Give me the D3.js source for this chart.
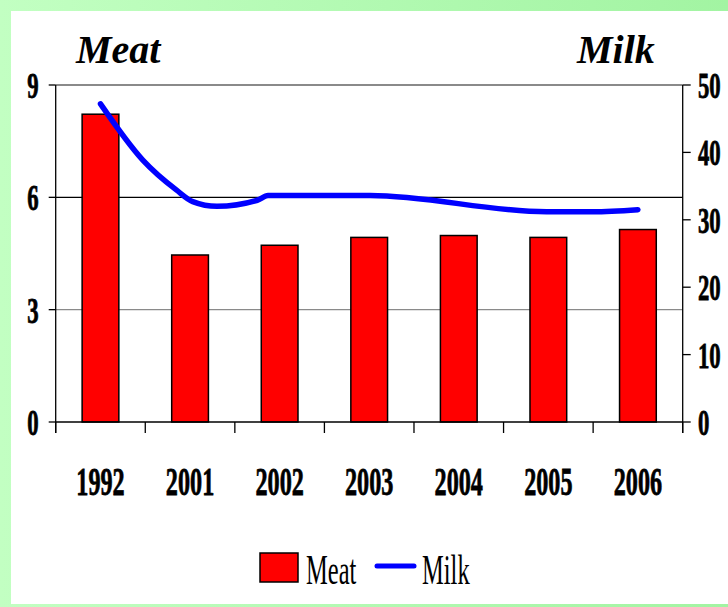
<!DOCTYPE html>
<html>
<head>
<meta charset="utf-8">
<script src="https://cdn.jsdelivr.net/npm/d3@7"></script>
<style>
  html, body { margin: 0; padding: 0; background: #fff; }
  svg { display: block; }
  text { font-family: "Liberation Serif", "Times New Roman", serif; fill: #000; }
</style>
</head>
<body>
<svg id="chart" width="728" height="607"></svg>
<script>
// ---- data ----
const years = ["1992", "2001", "2002", "2003", "2004", "2005", "2006"];
const meatValues = [8.22, 4.46, 4.72, 4.93, 4.98, 4.93, 5.14];
// milk line: position in category index units, value on the right axis
const milkPos = [0, 0.47, 0.85, 1.03, 1.30, 1.75, 1.87, 3.01, 4.98, 5.50, 6.0];
const milkValues = [47.2, 38.9, 34.4, 32.7, 32.0, 32.9, 33.6, 33.6, 31.2, 31.2, 31.5];
const meatTicks = [0, 3, 6, 9];
const milkTicks = [0, 10, 20, 30, 40, 50];
const seriesNames = ["Meat", "Milk"];

// ---- layout ----
const W = 728, H = 607;
const plot = { left: 55.7, right: 682.7, top: 85, bottom: 422 };
const svg = d3.select("#chart");

// background frame
const defs = svg.append("defs");
const grad = defs.append("linearGradient").attr("id", "bg").attr("x1", "0").attr("x2", "1").attr("y1", "0").attr("y2", "0");
grad.append("stop").attr("offset", "0").attr("stop-color", "#c2ffc2");
grad.append("stop").attr("offset", "1").attr("stop-color", "#a2f4a2");
svg.append("rect").attr("width", W).attr("height", H).attr("fill", "url(#bg)");
svg.append("rect").attr("x", 11).attr("y", 11).attr("width", W - 11).attr("height", 604 - 11).attr("fill", "#fff");

// scales
const x = d3.scaleBand().domain(years).range([plot.left, plot.right]).paddingInner(0.59).paddingOuter(0.295);
const xIdx = d3.scaleLinear().domain([0, years.length - 1])
  .range([x(years[0]) + x.bandwidth() / 2, x(years[years.length - 1]) + x.bandwidth() / 2]);
const yL = d3.scaleLinear().domain([0, 9]).range([plot.bottom, plot.top]);
const yR = d3.scaleLinear().domain([0, 50]).range([plot.bottom, plot.top]);

// gridlines
const gridStyle = { 9: ["#8a8a8a", 2], 6: ["#000", 1.2], 3: ["#8a8a8a", 1.2] };
svg.append("g").selectAll("line").data(meatTicks.filter(d => d > 0)).join("line")
  .attr("x1", plot.left).attr("x2", plot.right)
  .attr("y1", d => yL(d)).attr("y2", d => yL(d))
  .attr("stroke", d => gridStyle[d][0]).attr("stroke-width", d => gridStyle[d][1]);

// bars
svg.append("g").selectAll("rect").data(years).join("rect")
  .attr("x", d => x(d)).attr("width", x.bandwidth())
  .attr("y", (d, i) => yL(meatValues[i]))
  .attr("height", (d, i) => yL(0) - yL(meatValues[i]))
  .attr("fill", "#ff0000").attr("stroke", "#000").attr("stroke-width", 1.5);

// axes lines
const axisG = svg.append("g").attr("stroke", "#000").attr("stroke-width", 1.3);
axisG.append("line").attr("x1", plot.left).attr("x2", plot.left).attr("y1", plot.top).attr("y2", plot.bottom + 11);
axisG.append("line").attr("x1", plot.right).attr("x2", plot.right).attr("y1", plot.top).attr("y2", plot.bottom + 11);
axisG.append("line").attr("x1", plot.left).attr("x2", plot.right).attr("y1", plot.bottom).attr("y2", plot.bottom);
// category boundary ticks
const boundaries = d3.range(years.length + 1).map(i => plot.left + i * x.step());
axisG.selectAll(".xt").data(boundaries).join("line").attr("class", "xt")
  .attr("x1", d => d).attr("x2", d => d).attr("y1", plot.bottom).attr("y2", plot.bottom + 11);
// left ticks
axisG.selectAll(".lt").data(meatTicks).join("line").attr("class", "lt")
  .attr("x1", plot.left - 7).attr("x2", plot.left).attr("y1", d => yL(d)).attr("y2", d => yL(d));
// right ticks
axisG.selectAll(".rt").data(milkTicks).join("line").attr("class", "rt")
  .attr("x1", plot.right).attr("x2", plot.right + 8).attr("y1", d => yR(d)).attr("y2", d => yR(d));

// condensed text helper
function ctext(g, x0, y0, str, opts) {
  const t = g.append("text")
    .attr("transform", `translate(${x0},${y0}) scale(${opts.sx},1)`)
    .attr("text-anchor", opts.anchor || "start")
    .attr("font-size", opts.size)
    .attr("font-weight", opts.weight || "normal")
    .attr("font-style", opts.style || "normal")
    .text(str);
  if (opts.heavy) t.attr("stroke", "#000").attr("stroke-width", 0.8);
  return t;
}

const lbl = svg.append("g");
meatTicks.forEach(d => ctext(lbl, 38.5, yL(d) + 13, String(d), { sx: 0.65, size: 35, weight: "bold", anchor: "end", heavy: true }));
milkTicks.forEach(d => ctext(lbl, 698, yR(d) + 13, String(d), { sx: 0.65, size: 35, weight: "bold", anchor: "start", heavy: true }));
years.forEach(d => ctext(lbl, x(d) + x.bandwidth() / 2, 495, d, { sx: 0.59, size: 41, weight: "bold", anchor: "middle", heavy: true }));

// axis titles
svg.append("text").attr("x", 76).attr("y", 63).attr("font-size", 40).attr("font-weight", "bold").attr("font-style", "italic").text(seriesNames[0]);
svg.append("text").attr("x", 577).attr("y", 63).attr("font-size", 40).attr("font-weight", "bold").attr("font-style", "italic").text(seriesNames[1]);

// milk line
const line = d3.line().x((d, i) => xIdx(milkPos[i])).y(d => yR(d)).curve(d3.curveMonotoneX);
svg.append("path").datum(milkValues).attr("d", line)
  .attr("fill", "none").attr("stroke", "#0000ff").attr("stroke-width", 5.5)
  .attr("stroke-linecap", "round").attr("stroke-linejoin", "round");

// legend
const leg = svg.append("g");
leg.append("rect").attr("x", 260).attr("y", 553).attr("width", 38).attr("height", 29)
  .attr("fill", "#ff0000").attr("stroke", "#000").attr("stroke-width", 1.5);
ctext(leg, 306, 584, seriesNames[0], { sx: 0.57, size: 43 });
leg.append("line").attr("x1", 377).attr("x2", 414).attr("y1", 566).attr("y2", 566)
  .attr("stroke", "#0000ff").attr("stroke-width", 5).attr("stroke-linecap", "round");
ctext(leg, 422, 584, seriesNames[1], { sx: 0.57, size: 43 });
</script>
</body>
</html>
